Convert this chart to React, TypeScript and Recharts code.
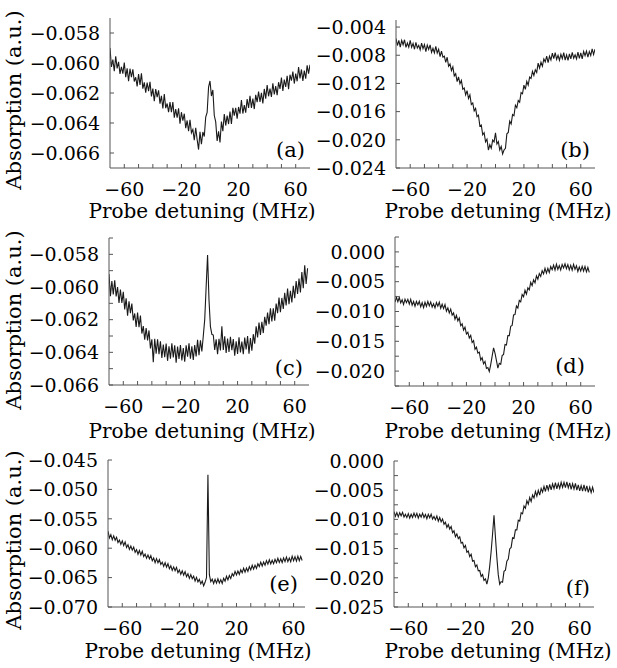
import React from 'react';
import { LineChart, Line, XAxis, YAxis } from 'recharts';

// shared detuning grid (MHz), one sample per MHz
const DETUNING = [
  -70, -69, -68, -67, -66, -65, -64, -63, -62, -61, -60, -59, -58, -57, -56, -55, -54, -53, -52, -51,
  -50, -49, -48, -47, -46, -45, -44, -43, -42, -41, -40, -39, -38, -37, -36, -35, -34, -33, -32, -31,
  -30, -29, -28, -27, -26, -25, -24, -23, -22, -21, -20, -19, -18, -17, -16, -15, -14, -13, -12, -11,
  -10, -9, -8, -7, -6, -5, -4, -3, -2, -1, 0, 1, 2, 3, 4, 5, 6, 7, 8, 9,
  10, 11, 12, 13, 14, 15, 16, 17, 18, 19, 20, 21, 22, 23, 24, 25, 26, 27, 28, 29,
  30, 31, 32, 33, 34, 35, 36, 37, 38, 39, 40, 41, 42, 43, 44, 45, 46, 47, 48, 49,
  50, 51, 52, 53, 54, 55, 56, 57, 58, 59, 60, 61, 62, 63, 64, 65, 66, 67, 68, 69, 70,
];

// absorption values, in units of 1e-5 a.u.
const A_VALUES = [
  -5900, -6026, -5977, -6054, -5955, -6036, -5992, -6073, -6025, -6071,
  -5997, -6094, -6035, -6122, -6038, -6095, -6042, -6123, -6095, -6156,
  -6073, -6146, -6069, -6171, -6129, -6197, -6130, -6188, -6125, -6223,
  -6171, -6255, -6174, -6228, -6182, -6271, -6219, -6303, -6207, -6301,
  -6270, -6328, -6261, -6328, -6261, -6364, -6307, -6365, -6302, -6405,
  -6328, -6385, -6338, -6435, -6383, -6455, -6378, -6465, -6443, -6515,
  -6432, -6510, -6577, -6459, -6542, -6460, -6490, -6360, -6330, -6160,
  -6120, -6220, -6180, -6350, -6393, -6520, -6455, -6530, -6390, -6455,
  -6340, -6417, -6350, -6407, -6324, -6407, -6299, -6351, -6299, -6371,
  -6293, -6338, -6247, -6337, -6281, -6331, -6240, -6300, -6219, -6299,
  -6238, -6307, -6212, -6261, -6191, -6260, -6199, -6269, -6173, -6238,
  -6147, -6222, -6171, -6226, -6135, -6210, -6154, -6214, -6128, -6173,
  -6097, -6186, -6111, -6160, -6085, -6174, -6078, -6118, -6057, -6137,
  -6071, -6122, -6027, -6103, -6043, -6119, -6050, -6105, -6016, -6071,
  -6012,
];

const B_VALUES = [
  -563, -662, -590, -684, -588, -651, -580, -689, -627, -686,
  -590, -688, -632, -715, -618, -697, -660, -724, -627, -706,
  -649, -750, -656, -717, -653, -760, -701, -767, -673, -769,
  -715, -821, -742, -828, -814, -900, -828, -956, -924, -1017,
  -965, -1093, -1061, -1174, -1107, -1205, -1158, -1281, -1265, -1363,
  -1301, -1414, -1362, -1500, -1477, -1590, -1555, -1670, -1650, -1805,
  -1790, -1930, -1900, -2028, -1992, -2145, -2070, -2120, -2005, -2030,
  -1900, -2060, -2025, -2145, -2095, -2200, -2145, -2120, -1915, -1895,
  -1735, -1776, -1642, -1658, -1509, -1545, -1443, -1466, -1329, -1347,
  -1225, -1285, -1170, -1225, -1110, -1130, -1028, -1087, -1005, -1044,
  -912, -983, -899, -956, -852, -893, -812, -905, -814, -867,
  -771, -847, -763, -859, -800, -871, -787, -848, -764, -870,
  -796, -873, -781, -853, -761, -843, -795, -853, -755, -843,
  -765, -851, -746, -807, -742, -828, -748, -804, -709, -790,
  -715,
];

const C_VALUES = [
  -5920, -6056, -5963, -6045, -5959, -6058, -6000, -6098, -6015, -6098,
  -6030, -6137, -6069, -6176, -6088, -6160, -6102, -6205, -6162, -6245,
  -6157, -6246, -6175, -6285, -6239, -6323, -6252, -6327, -6266, -6376,
  -6320, -6461, -6317, -6408, -6320, -6411, -6333, -6435, -6352, -6429,
  -6346, -6452, -6363, -6439, -6345, -6431, -6357, -6463, -6364, -6440,
  -6356, -6450, -6374, -6458, -6357, -6426, -6345, -6439, -6363, -6447,
  -6356, -6425, -6324, -6417, -6326, -6395, -6300, -6200, -6000, -5804,
  -6080, -6243, -6290, -6294, -6385, -6320, -6411, -6317, -6388, -6240,
  -6385, -6302, -6404, -6316, -6398, -6305, -6387, -6319, -6421, -6333,
  -6410, -6308, -6401, -6334, -6412, -6310, -6383, -6301, -6409, -6312,
  -6390, -6289, -6347, -6241, -6309, -6218, -6293, -6213, -6282, -6182,
  -6237, -6157, -6227, -6131, -6211, -6131, -6206, -6101, -6160, -6065,
  -6155, -6067, -6134, -6036, -6113, -6010, -6106, -6023, -6095, -5992,
  -6069, -5964, -6043, -5948, -6033, -5908, -6008, -5867, -5982, -5885,
];

const D_VALUES = [
  -842, -761, -836, -765, -855, -804, -883, -793, -852, -797,
  -876, -795, -894, -833, -912, -831, -889, -828, -922, -851,
  -935, -845, -915, -830, -905, -840, -925, -870, -940, -850,
  -910, -843, -946, -878, -951, -884, -994, -939, -1025, -960,
  -1060, -1023, -1131, -1064, -1157, -1110, -1239, -1207, -1311, -1264,
  -1378, -1347, -1446, -1401, -1520, -1489, -1633, -1597, -1697, -1681,
  -1815, -1776, -1877, -1839, -1955, -1940, -2005, -1890, -1750, -1610,
  -1700, -1820, -1950, -1870, -1885, -1740, -1720, -1555, -1564, -1405,
  -1405, -1247, -1233, -1059, -1050, -906, -941, -812, -837, -713,
  -753, -643, -708, -602, -637, -512, -566, -469, -518, -401,
  -460, -363, -411, -315, -368, -276, -355, -274, -347, -246,
  -300, -222, -304, -207, -294, -231, -303, -210, -268, -200,
  -282, -212, -301, -226, -305, -210, -294, -234, -328, -253,
  -322, -244, -321, -243, -334, -261, -343,
];

const E_VALUES = [
  -5710, -5824, -5768, -5857, -5791, -5865, -5814, -5903, -5862, -5936,
  -5875, -5954, -5893, -5987, -5941, -6020, -5964, -6033, -5982, -6071,
  -6025, -6102, -6038, -6115, -6052, -6143, -6100, -6172, -6114, -6180,
  -6127, -6213, -6165, -6246, -6177, -6249, -6195, -6276, -6238, -6309,
  -6245, -6321, -6263, -6349, -6300, -6377, -6318, -6384, -6326, -6417,
  -6368, -6444, -6386, -6457, -6398, -6485, -6436, -6513, -6449, -6520,
  -6477, -6559, -6496, -6573, -6530, -6607, -6558, -6640, -6580, -6500,
  -4750, -6450, -6570, -6525, -6600, -6530, -6595, -6520, -6590, -6535,
  -6600, -6511, -6562, -6478, -6539, -6465, -6516, -6432, -6473, -6394,
  -6455, -6387, -6444, -6366, -6418, -6340, -6407, -6339, -6396, -6313,
  -6370, -6291, -6357, -6288, -6344, -6265, -6311, -6237, -6303, -6234,
  -6290, -6211, -6272, -6197, -6268, -6204, -6264, -6190, -6246, -6171,
  -6242, -6180, -6243, -6165, -6228, -6151, -6228, -6166, -6229, -6136,
  -6214, -6144, -6219, -6134, -6214, -6139, -6209,
];

const F_VALUES = [
  -868, -946, -884, -957, -885, -938, -880, -958, -911, -969,
  -902, -977, -912, -967, -892, -957, -897, -977, -912, -962,
  -892, -966, -915, -989, -913, -972, -911, -995, -949, -1008,
  -942, -1032, -967, -1042, -992, -1082, -1050, -1138, -1087, -1165,
  -1123, -1227, -1196, -1295, -1249, -1328, -1298, -1407, -1392, -1486,
  -1446, -1562, -1542, -1638, -1598, -1714, -1703, -1812, -1781, -1880,
  -1875, -1977, -1945, -2045, -2019, -2110, -2000, -1800, -1550, -1250,
  -930, -1300, -1650, -1950, -2110, -2065, -2075, -1890, -1870, -1715,
  -1680, -1505, -1480, -1315, -1325, -1180, -1180, -1015, -1030, -885,
  -905, -770, -810, -680, -740, -626, -695, -580, -633, -521,
  -601, -502, -583, -469, -535, -436, -522, -413, -498, -399,
  -495, -392, -474, -371, -478, -386, -468, -365, -452, -364,
  -456, -356, -460, -375, -484, -389, -479, -383, -498, -407,
  -512, -421, -515, -409, -518, -427, -537, -446, -540, -449,
  -543,
];

const X_TICKS = [-60, -50, -40, -30, -20, -10, 0, 10, 20, 30, 40, 50, 60];
const X_LABELS = [-60, -20, 20, 60];

const A_YTICKS = [-0.066, -0.064, -0.062, -0.06, -0.058];
const B_YTICKS = [-0.024, -0.02, -0.016, -0.012, -0.008, -0.004];
const C_YTICKS = [-0.066, -0.065, -0.064, -0.063, -0.062, -0.061, -0.06, -0.059, -0.058, -0.057];
const C_YLABELS = [-0.066, -0.064, -0.062, -0.06, -0.058];
const D_YTICKS = [-0.0225, -0.02, -0.0175, -0.015, -0.0125, -0.01, -0.0075, -0.005, -0.0025, 0, 0.0025];
const D_YLABELS = [-0.02, -0.015, -0.01, -0.005, 0];
const E_YTICKS = [-0.07, -0.065, -0.06, -0.055, -0.05, -0.045];
const F_YTICKS = [-0.025, -0.0225, -0.02, -0.0175, -0.015, -0.0125, -0.01, -0.0075, -0.005, -0.0025, 0];
const F_YLABELS = [-0.025, -0.02, -0.015, -0.01, -0.005, 0];

const FONT = '"DejaVu Serif", "Liberation Serif", serif';
const INK = '#000';
const AXIS = '#555';

const toRows = (vals: number[]) => vals.map((v, i) => ({ x: DETUNING[i], y: v * 1e-5 }));
const minus = (s: string) => s.replace('-', '\u2212');

interface PanelProps {
  values: number[];
  left: number;
  top: number;
  width: number;
  height: number;
  margin: { top: number; right: number; left: number; bottom: number };
  yWidth: number;
  xHeight: number;
  xDomain: [number, number];
  yDomain: [number, number];
  yTicks: number[];
  yLabels?: number[];
  letter: string;
  letterPos: [number, number];
  xLabelX: number;
  showYLabel?: boolean;
}

const Panel: React.FC<PanelProps> = (p) => {
  const data = React.useMemo(() => toRows(p.values), [p.values]);
  const labels = p.yLabels || p.yTicks;
  return (
    <div style={{ position: 'absolute', left: p.left, top: p.top }}>
      <LineChart width={p.width} height={p.height} data={data} margin={p.margin}>
        <XAxis
          dataKey="x"
          type="number"
          domain={p.xDomain}
          allowDataOverflow
          ticks={X_TICKS}
          interval={0}
          tickSize={-4}
          tickMargin={19}
          height={p.xHeight}
          tickFormatter={(v: number) => (X_LABELS.includes(v) ? minus(String(v)) : '')}
          tick={{ fill: INK, fontSize: 19, fontFamily: FONT }}
          axisLine={{ stroke: AXIS }}
          tickLine={{ stroke: AXIS }}
        />
        <YAxis
          type="number"
          domain={p.yDomain}
          allowDataOverflow
          ticks={p.yTicks}
          interval={0}
          tickSize={-4}
          tickMargin={14}
          width={p.yWidth}
          tickFormatter={(v: number) => (labels.includes(v) ? minus(v.toFixed(3)) : '')}
          tick={{ fill: INK, fontSize: 19, fontFamily: FONT }}
          axisLine={{ stroke: AXIS }}
          tickLine={{ stroke: AXIS }}
        />
        <Line
          type="linear"
          dataKey="y"
          stroke="#1a1a1a"
          strokeWidth={1.1}
          dot={false}
          isAnimationActive={false}
        />
        <text x={p.xLabelX} y={218} textAnchor="middle" fontSize={20} fontFamily={FONT} fill={INK}>
          Probe detuning (MHz)
        </text>
        {p.showYLabel && (
          <text
            x={21}
            y={100}
            transform="rotate(-90 21 100)"
            textAnchor="middle"
            fontSize={21}
            fontFamily={FONT}
            fill={INK}
          >
            Absorption (a.u.)
          </text>
        )}
        <text x={p.letterPos[0]} y={p.letterPos[1]} textAnchor="end" fontSize={21} fontFamily={FONT} fill={INK}>
          {p.letter}
        </text>
      </LineChart>
    </div>
  );
};

export default function App() {
  return (
    <div
      style={{
        position: 'absolute',
        left: 0,
        top: 0,
        width: 617,
        height: 668,
        background: '#fff',
        overflow: 'hidden',
      }}
    >
      <Panel
        values={A_VALUES}
        left={0}
        top={0}
        width={320}
        height={222}
        margin={{ top: 18, right: 10, left: 0, bottom: 0 }}
        yWidth={110}
        xHeight={54}
        xDomain={[-70, 70]}
        yDomain={[-0.067, -0.057]}
        yTicks={A_YTICKS}
        letter="(a)"
        letterPos={[305, 157]}
        xLabelX={202}
        showYLabel
      />
      <Panel
        values={B_VALUES}
        left={300}
        top={0}
        width={317}
        height={222}
        margin={{ top: 20, right: 22, left: 0, bottom: 0 }}
        yWidth={96}
        xHeight={54}
        xDomain={[-70, 70]}
        yDomain={[-0.024, -0.003]}
        yTicks={B_YTICKS}
        letter="(b)"
        letterPos={[290, 157]}
        xLabelX={198}
      />
      <Panel
        values={C_VALUES}
        left={0}
        top={220}
        width={320}
        height={222}
        margin={{ top: 18, right: 11, left: 0, bottom: 0 }}
        yWidth={109}
        xHeight={57}
        xDomain={[-70, 70]}
        yDomain={[-0.066, -0.057]}
        yTicks={C_YTICKS}
        yLabels={C_YLABELS}
        letter="(c)"
        letterPos={[303, 155]}
        xLabelX={202}
        showYLabel
      />
      <Panel
        values={D_VALUES}
        left={300}
        top={220}
        width={317}
        height={222}
        margin={{ top: 17, right: 22, left: 0, bottom: 0 }}
        yWidth={95}
        xHeight={56}
        xDomain={[-70, 70]}
        yDomain={[-0.0225, 0.0025]}
        yTicks={D_YTICKS}
        yLabels={D_YLABELS}
        letter="(d)"
        letterPos={[285, 153]}
        xLabelX={198}
      />
      <Panel
        values={E_VALUES}
        left={0}
        top={440}
        width={320}
        height={228}
        margin={{ top: 20, right: 15, left: 0, bottom: 0 }}
        yWidth={108}
        xHeight={61}
        xDomain={[-70, 68]}
        yDomain={[-0.07, -0.045]}
        yTicks={E_YTICKS}
        letter="(e)"
        letterPos={[298, 151]}
        xLabelX={198}
        showYLabel
      />
      <Panel
        values={F_VALUES}
        left={300}
        top={440}
        width={317}
        height={228}
        margin={{ top: 21, right: 23, left: 0, bottom: 0 }}
        yWidth={94}
        xHeight={61}
        xDomain={[-70, 70]}
        yDomain={[-0.025, 0]}
        yTicks={F_YTICKS}
        yLabels={F_YLABELS}
        letter="(f)"
        letterPos={[290, 155]}
        xLabelX={198}
      />
    </div>
  );
}
